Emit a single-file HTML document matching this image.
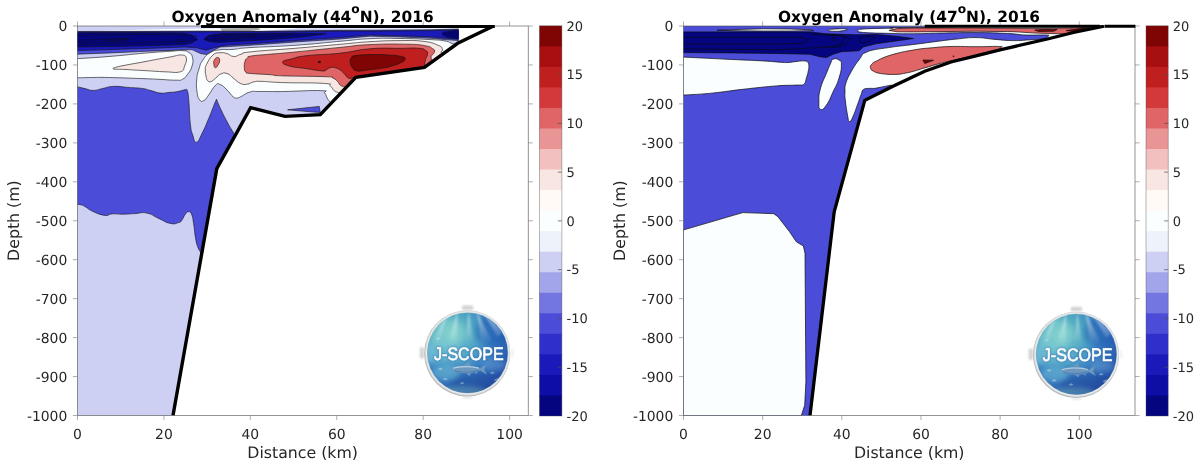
<!DOCTYPE html>
<html lang="en">
<head>
<meta charset="utf-8">
<title>Oxygen Anomaly 2016 - J-SCOPE</title>
<style>
html,body{margin:0;padding:0;background:#fff;}
body{width:1200px;height:467px;overflow:hidden;font-family:"DejaVu Sans","Liberation Sans",sans-serif;}
svg{display:block;will-change:transform;opacity:0.9999;}
text{text-rendering:geometricPrecision;}
</style>
</head>
<body>
<svg width="1200" height="467" viewBox="0 0 1200 467" shape-rendering="geometricPrecision">
<rect x="0" y="0" width="1200" height="467" fill="#fff"/>
<defs>
<clipPath id="lc"><path d="M77.5 26 L458.7 26 L458.7 43 L424.4 67.4 L355.8 77.4 L320.3 114.6 L285 116.4 L250.6 107.7 L216.8 168.6 L173 415.5 L77.5 415.5Z"/></clipPath>
<clipPath id="lax"><rect x="77.5" y="25" width="450.7" height="390.5"/></clipPath>
</defs>
<g clip-path="url(#lc)">
<rect x="70" y="20" width="420" height="400" fill="#CDD0F3"/>
<path d="M95 30.9 L150 29.6 L200 28.4 L262 27.6 L330 27.5 L459 27.6 L459 28.4 L400 28.6 L300 28.2 L262 31 L200 31.2 L150 31.3Z" fill="#FAFEFF"/>
<path d="M220 28.2 L258 28 L261 29.6 L250 31 L222 31.2Z" fill="#a9a9a9"/>
<path d="M77 31.5 L140 31.3 L200 31.1 L261 31.3 L300 30.8 L340 30.3 L370 30.3 L430 29.8 L459.5 29 L459.5 40.6 L445 39.6 L430 38.2 L400 37 L370 36.2 L340 39 L295 42 L250 45.3 L228 46.6 L220 47 L213 50.5 L206.6 54.6 L200.3 53.4 L192 49.6 L170 50.4 L145 51.3 L110 52.9 L77 54.2Z" fill="#4B4DD8" stroke="#141414" stroke-width="0.62"/>
<path d="M77 32.1 L200 31.8 L300 31.6 L340 31.1 L370 31.1 L430 30.6 L459.5 29.9 L459.5 39.2 L445 38.2 L430 36.8 L400 35.8 L370 35 L340 37.6 L295 40.6 L250 43.8 L228 45 L215 47.4 L206 50.2 L197 47.8 L185 47 L145 48.5 L110 49.6 L77 50.6Z" fill="#1A1ABB" stroke="#141414" stroke-width="0.62"/>
<path d="M77 32.9 L150 32.7 L185 33.2 L193 35.6 L197.5 39.6 L192 42.8 L185 44.5 L145 45.8 L110 46.5 L77 47Z" fill="#05057F" stroke="#141414" stroke-width="0.62"/>
<path d="M203.5 39.2 L209 35.2 L222 33.6 L262 33.3 L300 33.2 L326 33.8 L300 37.2 L283 38.6 L260 40.2 L232 41.6 L218 42.4 L209 41.6Z" fill="#05057F" stroke="#141414" stroke-width="0.62"/>
<path d="M442.5 33.8 C443.17 32.4 441.33 32.73 447 31.8 C452.67 30.87 455.33 29 459.5 31 C463.67 33 462.67 35.67 459.5 37.8 C456.33 39.93 454.83 38 450 37.4 C445.17 36.8 447.5 37.2 445 36 C442.5 34.8 441.83 35.2 442.5 33.8Z" fill="#05057F" stroke="#141414" stroke-width="0.62"/>
<path d="M448 34.4 C449.33 34 448.17 33.73 452 33.2 C455.83 32.67 457 32.93 459.5 32.8" fill="none" stroke="#141414" stroke-width="0.4"/>
<path d="M452 36.4 C453 36.07 452.5 35.8 455 35.4 C457.5 35 458 35.27 459.5 35.2" fill="none" stroke="#141414" stroke-width="0.4"/>
<path d="M77 36 C88 35.67 85.67 35.47 110 35 C134.33 34.53 124.67 34.6 150 34.6 C175.33 34.6 170.67 34 186 35 C201.33 36 196 35.6 196 37.6 C196 39.6 201.33 39.47 186 41 C170.67 42.53 175.33 41.33 150 42.2 C124.67 43.07 134.33 42.8 110 43.6 C85.67 44.4 88 44.27 77 44.6" fill="none" stroke="#141414" stroke-width="0.45"/>
<path d="M77 40.6 C83 40.27 78 40.2 95 39.6 C112 39 123 38.33 128 38.8 C133 39.27 122.67 39.93 110 41 C97.33 42.07 101 41.53 90 42 C79 42.47 81.33 42.27 77 42.4" fill="none" stroke="#141414" stroke-width="0.45"/>
<path d="M108 40.4 C107.33 39.63 109.33 39.57 116 39.3 C122.67 39.03 127.33 38.83 128 39.6 C128.67 40.37 124.67 41.33 118 41.6 C111.33 41.87 108.67 41.17 108 40.4Z" fill="none" stroke="#141414" stroke-width="0.4"/>
<path d="M177 40.6 C177.33 39.47 178.67 38.8 181 38.6 C183.33 38.4 184.33 38.87 184 40 C183.67 41.13 182.33 41.8 180 42 C177.67 42.2 176.67 41.73 177 40.6Z" fill="none" stroke="#141414" stroke-width="0.4"/>
<path d="M206.5 38.6 C206.5 37.07 206.17 36.73 212 35.4 C217.83 34.07 207.33 34.8 224 34.6 C240.67 34.4 239.33 34.87 262 34.8 C284.67 34.73 292 33.6 292 34.4 C292 35.2 284 35.6 262 37.2 C240 38.8 242.67 38.27 226 39.2 C209.33 40.13 218.5 40.2 212 40 C205.5 39.8 206.5 40.13 206.5 38.6Z" fill="none" stroke="#141414" stroke-width="0.45"/>
<path d="M214 37.8 C213.33 37.07 211.33 36.8 220 36.2 C228.67 35.6 228 36.07 240 36 C252 35.93 256 35.6 256 36 C256 36.4 251.33 36.4 240 37.2 C228.67 38 230.67 38.2 222 38.4 C213.33 38.6 214.67 38.53 214 37.8Z" fill="none" stroke="#141414" stroke-width="0.4"/>
<path d="M76 58.75 C85.07 58.12 91.6 57.91 110 56.4 C128.4 54.89 129 54.46 145 53.1 C161 51.74 160 51.94 170 51.3 C180 50.66 177.5 50.38 182.5 50.7 C187.5 51.02 186.08 50.69 188.75 52.5 C191.42 54.31 191.66 53.77 192.5 57.5 C193.34 61.23 193.23 61.99 191.9 66.5 C190.57 71.01 190.01 71.01 187.5 74.4 C184.99 77.79 185.57 77.65 182.5 79.2 C179.43 80.75 182.83 80.2 176 80.2 C169.17 80.2 167.35 79.68 156.9 79.2 C146.45 78.72 149.73 78.85 136.8 78.4 C123.87 77.95 120.43 77.74 108.4 77.5 C96.37 77.26 100.34 77.39 91.7 77.5 C83.06 77.61 80.19 77.79 76 77.9 L70 77.9 L70 58.75Z" fill="#FAFEFF" stroke="#141414" stroke-width="0.62"/>
<path d="M462 47 C459.33 46.07 456.53 45.1 452 43.5 C447.47 41.9 450.87 42.04 445 41 C439.13 39.96 442 40.27 430 39.6 C418 38.93 416 38.74 400 38.5 C384 38.26 386 37.95 370 38.7 C354 39.45 360 39.54 340 41.3 C320 43.06 319 43.62 295 45.3 C271 46.98 266.53 46.51 250 47.6 C233.47 48.69 241 48.81 233 49.4 C225 49.99 226.03 48.95 220 49.8 C213.97 50.65 214.99 49.85 210.4 52.6 C205.81 55.35 205.92 55.46 202.8 60.1 C199.68 64.74 200.33 64.69 198.7 70 C197.07 75.31 197.15 74.21 196.7 80 C196.25 85.79 196.25 86.47 197 91.7 C197.75 96.93 197.71 97.23 199.5 99.6 C201.29 101.97 201.25 101.83 203.7 100.6 C206.15 99.37 205.58 99.05 208.7 95 C211.82 90.95 212.28 88.17 215.4 85.4 C218.52 82.63 217.31 83.37 220.4 84.6 C223.49 85.83 223.64 86.8 227 90 C230.36 93.2 230.47 94.47 233 96.6 C235.53 98.73 234.47 97.95 236.5 98 C238.53 98.05 236.97 98.4 240.6 96.8 C244.23 95.2 244.93 93.41 250.1 92 C255.27 90.59 251.12 91.63 260 91.5 C268.88 91.37 267.24 91.74 283.4 91.5 C299.56 91.26 309.59 90.2 320.6 90.6 C331.61 91 322.94 91 324.7 93 C326.46 95 325.87 95.81 327.2 98.1 C328.53 100.39 327.89 99.49 329.7 101.6 C331.51 103.71 332.85 104.83 334 106 L480 103 L480 47Z" fill="#FAFEFF" stroke="#141414" stroke-width="0.62"/>
<path d="M113.75 68 C117.72 66.13 131.88 64.17 145 61.6 C158.12 59.03 161.48 58.54 170 57 C178.52 55.46 177.7 54.77 181.5 55 C185.3 55.23 185.58 55.43 186.3 58 C187.02 60.57 186 62.78 184.6 66 C183.2 69.22 184.87 70.45 180.3 71.8 C175.73 73.15 173.24 72.08 165 71.8 C156.76 71.52 153.63 71.11 145 70.6 C136.37 70.09 135.29 70.21 128 69.6 C120.71 68.99 109.78 69.87 113.75 68Z" fill="#F8E6E3" stroke="#141414" stroke-width="0.62"/>
<path d="M446 57 C444.73 55.8 442.18 54.53 441.25 52.5 C440.32 50.47 443.5 51.4 442.5 49.4 C441.5 47.4 442.83 47.17 437.5 45 C432.17 42.83 432.5 42.42 422.5 41.25 C412.5 40.08 414 40.48 400 40.6 C386 40.72 386 40.71 370 41.7 C354 42.69 360 42.54 340 44.3 C320 46.06 318.67 46.3 295 48.3 C271.33 50.3 265.65 50.23 251.25 51.8 C236.85 53.37 245.67 52.95 241 54.2 C236.33 55.45 237.48 56.66 233.75 56.5 C230.02 56.34 230.67 54.6 227 53.6 C223.33 52.6 223.76 52.35 220 52.75 C216.24 53.15 216.47 51.99 212.9 55.1 C209.33 58.21 208.63 60.43 206.6 64.4 C204.57 68.37 205.46 66.91 205.3 70 C205.14 73.09 205.44 73.28 206 76 C206.56 78.72 206.17 78.68 207.4 80.2 C208.63 81.72 208.47 82.18 210.6 81.7 C212.73 81.22 212.79 80.4 215.4 78.4 C218.01 76.4 217.31 75.51 220.4 74.2 C223.49 72.89 223.45 72.38 227 73.5 C230.55 74.62 230.13 75.76 233.7 78.4 C237.27 81.04 236.83 81.85 240.4 83.4 C243.97 84.95 243.53 84.6 247.1 84.2 C250.67 83.8 249.83 82.65 253.8 81.9 C257.77 81.15 254.11 81.21 262 81.4 C269.89 81.59 267 82.07 283.4 82.6 C299.8 83.13 311.02 82.52 323.5 83.4 C335.98 84.28 327.29 83.9 330.2 85.9 C333.11 87.9 332.16 89.11 334.4 90.9 C336.64 92.69 336.04 91.51 338.6 92.6 C341.16 93.69 342.56 94.36 344 95 L470 95 L470 57Z" fill="#F8E6E3" stroke="#141414" stroke-width="0.62"/>
<path d="M214.1 60.6 C215.01 58.55 215.91 57.45 217.4 57.4 C218.89 57.35 219.7 58.11 219.7 60.4 C219.7 62.69 218.6 64.08 217.4 66 C216.2 67.92 216.11 67.84 215.2 67.6 C214.29 67.36 214.29 66.97 214 65.1 C213.71 63.23 213.19 62.65 214.1 60.6Z" fill="#DF6566" stroke="#141414" stroke-width="0.62"/>
<path d="M436 63 C434.67 61.67 431.43 60.93 431 58 C430.57 55.07 434 54.51 434.4 52 C434.8 49.49 435.01 50.28 432.5 48.6 C429.99 46.92 431.8 46.87 425 45.7 C418.2 44.53 421.67 44.49 407 44.2 C392.33 43.91 387.87 43.75 370 44.6 C352.13 45.45 360 45.43 340 47.4 C320 49.37 313.67 50.19 295 52 C276.33 53.81 281.67 53.13 270 54.2 C258.33 55.27 257.25 54.99 251.25 56 C245.25 57.01 249.17 56.6 247.5 58 C245.83 59.4 245.83 58.45 245 61.25 C244.17 64.05 244.13 65.58 244.4 68.5 C244.67 71.42 244.51 70.89 246 72.2 C247.49 73.51 243.6 72.73 250 73.4 C256.4 74.07 261.09 74.03 270 74.7 C278.91 75.37 268.68 75.37 283.4 75.9 C298.12 76.43 311.92 76.09 325.2 76.7 C338.48 77.31 329.89 76.89 333.2 78.2 C336.51 79.51 335.73 79.76 337.6 81.6 C339.47 83.44 338.6 83.74 340.2 85.1 C341.8 86.46 341.25 85.66 343.6 86.7 C345.95 87.74 347.56 88.39 349 89 L460 89 L460 63Z" fill="#DF6566" stroke="#141414" stroke-width="0.62"/>
<path d="M424.5 69 C424.63 66.93 424.2 65.25 425 61.25 C425.8 57.25 427.34 56.84 427.5 54 C427.66 51.16 427.87 52.12 425.6 50.6 C423.33 49.08 425.83 48.91 419 48.3 C412.17 47.69 413.07 48.17 400 48.3 C386.93 48.43 386 47.49 370 48.8 C354 50.11 356.67 51.39 340 53.2 C323.33 55.01 320.3 54.11 307.5 55.6 C294.7 57.09 298.59 57.09 292 58.8 C285.41 60.51 283.31 60.03 282.8 62 C282.29 63.97 284.15 64.49 290.1 66.2 C296.05 67.91 296.65 67.15 305.1 68.4 C313.55 69.65 316.23 70.5 321.8 70.9 C327.37 71.3 323.76 70.75 326 69.9 C328.24 69.05 327.91 68.31 330.2 67.7 C332.49 67.09 331.93 66.99 334.6 67.6 C337.27 68.21 337.56 68.29 340.2 70 C342.84 71.71 342.58 72.03 344.5 74 C346.42 75.97 345.77 76.23 347.4 77.4 C349.03 78.57 348.73 78.4 350.6 78.4 C352.47 78.4 352.43 77.08 354.4 77.4 C356.37 77.72 357.04 79.01 358 79.6 L440 79.4 L440 69Z" fill="#C01F20" stroke="#141414" stroke-width="0.62"/>
<path d="M350.2 62 C349.99 59.28 350.32 59.08 351.6 57.4 C352.88 55.72 350.09 56.45 355 55.7 C359.91 54.95 361 54.79 370 54.6 C379 54.41 380.42 54.49 388.75 55 C397.08 55.51 396.92 55.43 401.25 56.5 C405.58 57.57 405 57.4 405 59 C405 60.6 404.72 60.63 401.25 62.5 C397.78 64.37 397 64.51 392 66 C387 67.49 389.17 67.01 382.5 68.1 C375.83 69.19 373.8 69.35 367 70.1 C360.2 70.85 360.89 71.57 357 70.9 C353.11 70.23 354.21 69.97 352.4 67.6 C350.59 65.23 350.41 64.72 350.2 62Z" fill="#7F0505" stroke="#141414" stroke-width="0.62"/>
<ellipse cx="319.4" cy="61.9" rx="1.3" ry="0.9" fill="#300" stroke="#141414" stroke-width="0.4"/>
<path d="M76 86.4 C78.4 86.99 80.36 87.53 85 88.6 C89.64 89.67 88.6 90.45 93.4 90.4 C98.2 90.35 97.67 89.47 103 88.4 C108.33 87.33 106.73 86.67 113.4 86.4 C120.07 86.13 120.43 86.87 128 87.4 C135.57 87.93 135.67 87.55 141.8 88.4 C147.93 89.25 146.09 89.35 151 90.6 C155.91 91.85 155.4 92.62 160.2 93.1 C165 93.58 164.55 92.77 169 92.4 C173.45 92.03 172.55 92.45 176.9 91.7 C181.25 90.95 183.06 90.16 185.3 89.6 L185.3 89.6 C185.91 90.08 186.61 87.72 187.6 91.4 C188.59 95.08 188.28 94.84 189 103.4 C189.72 111.96 189.29 115.02 190.3 123.5 C191.31 131.98 191.15 130.21 192.8 135.2 C194.45 140.19 194.05 142.65 196.5 142.2 C198.95 141.75 198.75 139.82 202 133.5 C205.25 127.18 205.58 125.86 208.7 118.5 C211.82 111.14 211.62 111.05 213.7 105.9 C215.78 100.75 215.75 100.99 216.5 99.2 L216.5 99.2 C217.54 101.65 217.57 102.37 220.4 108.4 C223.23 114.43 223.77 115.56 227.1 121.8 C230.43 128.04 229.73 126.68 232.9 131.8 C236.07 136.92 237.37 138.55 239 141 L255 141 L255 175 L230 200 L215 262 L203 256 L203 256 C202.28 254.88 201.69 254.2 200.3 251.8 C198.91 249.4 199.05 250.55 197.8 247 C196.55 243.45 196.72 244.79 195.6 238.5 C194.48 232.21 194.67 229.83 193.6 223.4 C192.53 216.97 192.93 217.52 191.6 214.4 C190.27 211.28 190.28 211.75 188.6 211.7 C186.92 211.65 187.09 211.96 185.3 214.2 C183.51 216.44 183.69 217.86 181.9 220.1 C180.11 222.34 181.69 221.72 178.6 222.6 C175.51 223.48 175.63 224.52 170.3 223.4 C164.97 222.28 164.84 221.15 158.6 218.4 C152.36 215.65 153.19 214.38 146.9 213.1 C140.61 211.82 141.24 213.31 135 213.6 C128.76 213.89 129.69 214.12 123.5 214.2 C117.31 214.28 116.71 213.58 111.8 213.9 C106.89 214.22 110.01 215.99 105.1 215.4 C100.19 214.81 98.76 214.05 93.4 211.7 C88.04 209.35 88.12 208.39 85 206.6 C81.88 204.81 84.1 205.69 81.7 205 C79.3 204.31 77.52 204.27 76 204 L70 204 L70 86.4Z" fill="#4B4DD8" stroke="#141414" stroke-width="0.62"/>
<path d="M287.6 109.8 L319.3 106.4 L320.2 112.6Z" fill="#4B4DD8" stroke="#141414" stroke-width="0.62"/>
</g>
<defs>
<clipPath id="rc"><path d="M683.5 26 L1104 26.2 L1073.5 32.5 L1048.5 38.75 L1001 49.6 L976 55.8 L951 62 L924.7 71.2 L893 86.2 L864.8 100.4 L834.2 211.7 L810 415.5 L683.5 415.5Z"/></clipPath>
<clipPath id="rax"><rect x="683.5" y="25" width="451.5" height="390.5"/></clipPath>
</defs>
<g clip-path="url(#rc)">
<rect x="676" y="20" width="440" height="400" fill="#4B4DD8"/>
<path d="M683 31.9 L760 31.9 L811 32 L826 33.75 L856 34.8 L876 34.4 L896 36.2 L913.5 38.5 L896 41 L876 43.75 L863.5 46.9 L859 50.8 L841.4 51.7 L833.1 54.2 L826.4 57.5 L819.7 56.7 L809.7 54.2 L776.3 53.5 L730 52.9 L683 52.6Z" fill="#05057F" stroke="#0c0c0c" stroke-width="0.7"/>
<path d="M683 37.2 L760 37.2 L800 37.2 L808.5 39.4 L803 43.4 L760 44.2 L683 44" fill="none" stroke="#0c0c0c" stroke-width="0.62"/>
<path d="M683 48.75 L730 49.4 L780 49.6 L812 48 L826 46.9 L838 47 L846 44 L851 38.6 L840 35.6 L826 35 L811 34.2" fill="none" stroke="#0c0c0c" stroke-width="0.62"/>
<path d="M826 35 C831.42 35.2 836.42 33.93 842.25 35.6 C848.08 37.27 844.75 36.87 843.5 40 C842.25 43.13 844.33 42.7 838.5 45 C832.67 47.3 830.17 46.27 826 46.9" fill="none" stroke="#0c0c0c" stroke-width="0.62"/>
<path d="M832.4 38.2 C832.8 37.13 833.53 37 834.6 37.4 C835.67 37.8 836 38.33 835.6 39.4 C835.2 40.47 834.47 41 833.4 40.6 C832.33 40.2 832 39.27 832.4 38.2Z" fill="none" stroke="#0c0c0c" stroke-width="0.62"/>
<path d="M859.5 40 C860.17 38.27 858.67 38.33 863 37.2 C867.33 36.07 869 36.2 872.5 36.6 C876 37 875.67 36.6 873.5 38.4 C871.33 40.2 870.17 40.67 866 42 C861.83 43.33 863.17 43.07 861 42.4 C858.83 41.73 858.83 41.73 859.5 40Z" fill="none" stroke="#0c0c0c" stroke-width="0.62"/>
<path d="M717 30.25 L740 29.4 L763.5 28.75 L790 29 L811 29.75 L813.5 30.6 L790 31 L763.5 31 L740 30.8Z" fill="#FAFEFF" stroke="#0c0c0c" stroke-width="0.7"/>
<path d="M828.5 30 C829.33 29.25 830.17 29.33 836 29 C841.83 28.67 843.5 28.47 846 29 C848.5 29.53 847.67 29.85 843.5 30.6 C839.33 31.35 838.5 31.45 833.5 31.25 C828.5 31.05 827.67 30.75 828.5 30Z" fill="#FAFEFF" stroke="#0c0c0c" stroke-width="0.7"/>
<path d="M857.9 30.6 C857.9 31.42 856.01 31.85 863.5 32.5 C870.99 33.15 878.33 33.11 890 33.4 C901.67 33.69 900.67 33.84 913.5 33.75 C926.33 33.66 930.42 33.27 945 33 C959.58 32.73 961.48 32.48 976 32.6 C990.52 32.72 995.58 32.94 1007.25 33.5 C1018.92 34.06 1016.96 34.65 1026 35 C1035.04 35.35 1040.89 34.71 1046 35 C1051.11 35.29 1048.48 35.38 1047.9 36.25 C1047.32 37.12 1047.68 37.92 1043.5 38.75 C1039.32 39.58 1037 39.37 1030 39.8 C1023 40.23 1021.67 40.69 1013.5 40.6 C1005.33 40.51 1003.75 40.1 995 39.4 C986.25 38.7 984.87 37.69 976 37.6 C967.13 37.51 965.75 38.16 957 39 C948.25 39.84 948.65 39.92 938.5 41.2 C928.35 42.48 925.17 43.01 913.5 44.5 C901.83 45.99 899.29 45.9 888.5 47.6 C877.71 49.3 874.02 49.09 867.25 51.8 C860.48 54.51 863.25 54.56 859.5 59.2 C855.75 63.84 854.4 66.05 851.2 71.7 C848 77.35 847.25 78.66 845.8 83.4 C844.35 88.14 845.12 88.1 845 92 C844.88 95.9 844.65 94.31 845.3 100.1 C845.95 105.89 846.82 111.81 847.8 116.8 C848.78 121.79 848.31 121.5 849.5 121.5 C850.69 121.5 850.94 121 852.9 116.8 C854.86 112.6 855.96 108.75 857.9 103.5 C859.84 98.25 859.85 97.61 861.2 94.3 C862.55 90.99 861.65 90.68 863.7 89.3 C865.75 87.92 867.06 88.68 870 88.4 C872.94 88.12 871.73 88.8 876.3 88.1 C880.87 87.4 884.77 86.22 889.6 85.4 C894.43 84.58 888.81 87.49 897 84.6 C905.19 81.71 910 74.07 924.7 73 C939.4 71.93 909.76 78.37 960 80 C1010.24 81.63 1098 92.37 1140 80 C1182 67.63 1190.4 39.27 1140 27 C1089.6 14.73 982.33 27.12 924 27.4 C865.67 27.68 904.12 27.83 890 28.2 C875.88 28.57 870.99 28.44 863.5 29 C856.01 29.56 857.9 29.78 857.9 30.6Z" fill="#FAFEFF" stroke="#0c0c0c" stroke-width="0.7"/>
<path d="M889 30.4 L897 28.6 L913.5 28 L976 28 L1033 28.4 L1063 28.2 L1090 27.6 L1090 34 L1058.5 33.75 L1036 33.1 L1013.5 31.7 L976 31.2 L913.5 31.9 L897 31.8Z" fill="#DF6566" stroke="#0c0c0c" stroke-width="0.7"/>
<path d="M1034.75 30 L1045 29.4 L1057.25 29.4 L1053.5 31.25 L1038.5 31.5Z" fill="#7F0505" stroke="#0c0c0c" stroke-width="0.7"/>
<path d="M1066 30.6 L1082.25 28.3 L1086 28.6 L1073.5 31.4Z" fill="#7F0505" stroke="#0c0c0c" stroke-width="0.7"/>
<path d="M1008 53 C1006.37 51.86 1002.92 49.62 1001 48.1 C999.08 46.58 1005.58 46.83 999.75 46.5 C993.92 46.17 987.38 46.7 976 46.7 C964.62 46.7 961.27 46.24 951 46.5 C940.73 46.76 940.75 46.98 932 47.8 C923.25 48.62 923.07 48.32 913.5 50 C903.93 51.68 899.75 52.38 891 55 C882.25 57.62 880.39 59.2 876 61.25 C871.61 63.3 873.51 62.34 872.2 63.8 C870.89 65.26 870.1 65.76 870.4 67.5 C870.7 69.24 870.74 69.79 873.5 71.25 C876.26 72.71 877 73.02 882.25 73.75 C887.5 74.48 890.69 74.53 896 74.4 C901.31 74.27 900.92 73.94 905 73.2 C909.08 72.47 908.83 72.51 913.5 71.25 C918.17 69.99 919.17 69.52 925 67.8 C930.83 66.08 931.5 65.72 938.5 63.9 C945.5 62.08 946.48 61.84 955 60 C963.52 58.16 970.33 56.93 975 56 L1008 60Z" fill="#DF6566" stroke="#0c0c0c" stroke-width="0.7"/>
<path d="M922.9 60 L933.5 60.25 L924.75 63.5Z" fill="#7F0505" stroke="#0c0c0c" stroke-width="0.7"/>
<circle cx="953.5" cy="56.25" r="0.8" fill="#500"/>
<path d="M682 57 C690.82 57.44 709.92 58.42 726.1 59.2 C742.28 59.98 752.12 60.3 762.9 60.9 C773.68 61.5 774.98 61.88 780 62.2 C785.02 62.52 784.6 62.66 788 62.5 C791.4 62.34 793.66 61.72 797 61.4 C800.34 61.08 802.5 60.68 804.7 60.9 C806.9 61.12 807.18 61 808 62.5 C808.82 64 809.14 65.22 808.8 68.4 C808.46 71.58 807.3 75.22 806.3 78.4 C805.3 81.58 805.8 82.96 803.8 84.3 C801.8 85.64 801.8 84.78 796.3 85.1 C790.8 85.42 787 85.06 776.3 85.9 C765.6 86.74 756.18 87.8 742.8 89.3 C729.42 90.8 721.56 92.24 709.4 93.4 C697.24 94.56 687.48 94.76 682 95.1 L676 95.1 L676 57Z" fill="#FAFEFF" stroke="#0c0c0c" stroke-width="0.7"/>
<path d="M833.1 59.2 C835.31 58.29 836.69 58.45 838.9 60 C841.11 61.55 841.4 60.09 841.4 65 C841.4 69.91 841.11 71.25 838.9 78.4 C836.69 85.55 836.43 84.68 833.1 91.8 C829.77 98.92 829.76 100.43 826.4 105.1 C823.04 109.77 822.5 110.18 820.5 109.3 C818.5 108.42 818.9 107.37 818.9 101.8 C818.9 96.23 818.5 95.97 820.5 88.4 C822.5 80.83 823.71 80.07 826.4 73.4 C829.09 66.73 828.81 67.19 830.6 63.4 C832.39 59.61 830.89 60.11 833.1 59.2Z" fill="#FAFEFF" stroke="#0c0c0c" stroke-width="0.7"/>
<path d="M683 230.1 L742.8 212.6 L773.7 213.7 L777.9 216.7 L789.6 231.8 L796.3 241.8 L803.4 246 L805 253.5 L805.6 340 L805.9 381.8 L804.7 405.2 L801.2 416 L683 416Z" fill="#FAFEFF" stroke="#0c0c0c" stroke-width="0.7"/>
</g>
<g stroke="#4d4d4d" stroke-width="0.6" fill="none">
<rect x="77.5" y="26" width="450.7" height="389.5"/>
<path stroke="#777" d="M77.5 415.5 v4.6 M77.5 26 v-4.6"/>
<path stroke="#777" d="M163.92 415.5 v4.6 M163.92 26 v-4.6"/>
<path stroke="#777" d="M250.34 415.5 v4.6 M250.34 26 v-4.6"/>
<path stroke="#777" d="M336.76 415.5 v4.6 M336.76 26 v-4.6"/>
<path stroke="#777" d="M423.18 415.5 v4.6 M423.18 26 v-4.6"/>
<path stroke="#777" d="M509.6 415.5 v4.6 M509.6 26 v-4.6"/>
<path stroke="#777" d="M77.5 26 h-4.6 M528.2 26 h4.6"/>
<path stroke="#777" d="M77.5 64.95 h-4.6 M528.2 64.95 h4.6"/>
<path stroke="#777" d="M77.5 103.9 h-4.6 M528.2 103.9 h4.6"/>
<path stroke="#777" d="M77.5 142.85 h-4.6 M528.2 142.85 h4.6"/>
<path stroke="#777" d="M77.5 181.8 h-4.6 M528.2 181.8 h4.6"/>
<path stroke="#777" d="M77.5 220.75 h-4.6 M528.2 220.75 h4.6"/>
<path stroke="#777" d="M77.5 259.7 h-4.6 M528.2 259.7 h4.6"/>
<path stroke="#777" d="M77.5 298.65 h-4.6 M528.2 298.65 h4.6"/>
<path stroke="#777" d="M77.5 337.6 h-4.6 M528.2 337.6 h4.6"/>
<path stroke="#777" d="M77.5 376.55 h-4.6 M528.2 376.55 h4.6"/>
<path stroke="#777" d="M77.5 415.5 h-4.6 M528.2 415.5 h4.6"/>
</g>
<g font-family="'DejaVu Sans','Liberation Sans',sans-serif" font-size="13.9" fill="#262626">
<text x="77.5" y="438.9" text-anchor="middle">0</text>
<text x="163.92" y="438.9" text-anchor="middle">20</text>
<text x="250.34" y="438.9" text-anchor="middle">40</text>
<text x="336.76" y="438.9" text-anchor="middle">60</text>
<text x="423.18" y="438.9" text-anchor="middle">80</text>
<text x="509.6" y="438.9" text-anchor="middle">100</text>
<text x="67.3" y="31.1" text-anchor="end">0</text>
<text x="67.3" y="70.05" text-anchor="end">-100</text>
<text x="67.3" y="109" text-anchor="end">-200</text>
<text x="67.3" y="147.95" text-anchor="end">-300</text>
<text x="67.3" y="186.9" text-anchor="end">-400</text>
<text x="67.3" y="225.85" text-anchor="end">-500</text>
<text x="67.3" y="264.8" text-anchor="end">-600</text>
<text x="67.3" y="303.75" text-anchor="end">-700</text>
<text x="67.3" y="342.7" text-anchor="end">-800</text>
<text x="67.3" y="381.65" text-anchor="end">-900</text>
<text x="67.3" y="420.6" text-anchor="end">-1000</text>
</g>
<g stroke="#4d4d4d" stroke-width="0.6" fill="none">
<rect x="683.5" y="26" width="451.5" height="389.5"/>
<path stroke="#777" d="M683.5 415.5 v4.6 M683.5 26 v-4.6"/>
<path stroke="#777" d="M762.66 415.5 v4.6 M762.66 26 v-4.6"/>
<path stroke="#777" d="M841.82 415.5 v4.6 M841.82 26 v-4.6"/>
<path stroke="#777" d="M920.98 415.5 v4.6 M920.98 26 v-4.6"/>
<path stroke="#777" d="M1000.14 415.5 v4.6 M1000.14 26 v-4.6"/>
<path stroke="#777" d="M1079.3 415.5 v4.6 M1079.3 26 v-4.6"/>
<path stroke="#777" d="M683.5 26 h-4.6 M1135 26 h4.6"/>
<path stroke="#777" d="M683.5 64.95 h-4.6 M1135 64.95 h4.6"/>
<path stroke="#777" d="M683.5 103.9 h-4.6 M1135 103.9 h4.6"/>
<path stroke="#777" d="M683.5 142.85 h-4.6 M1135 142.85 h4.6"/>
<path stroke="#777" d="M683.5 181.8 h-4.6 M1135 181.8 h4.6"/>
<path stroke="#777" d="M683.5 220.75 h-4.6 M1135 220.75 h4.6"/>
<path stroke="#777" d="M683.5 259.7 h-4.6 M1135 259.7 h4.6"/>
<path stroke="#777" d="M683.5 298.65 h-4.6 M1135 298.65 h4.6"/>
<path stroke="#777" d="M683.5 337.6 h-4.6 M1135 337.6 h4.6"/>
<path stroke="#777" d="M683.5 376.55 h-4.6 M1135 376.55 h4.6"/>
<path stroke="#777" d="M683.5 415.5 h-4.6 M1135 415.5 h4.6"/>
</g>
<g font-family="'DejaVu Sans','Liberation Sans',sans-serif" font-size="13.9" fill="#262626">
<text x="683.5" y="438.9" text-anchor="middle">0</text>
<text x="762.66" y="438.9" text-anchor="middle">20</text>
<text x="841.82" y="438.9" text-anchor="middle">40</text>
<text x="920.98" y="438.9" text-anchor="middle">60</text>
<text x="1000.14" y="438.9" text-anchor="middle">80</text>
<text x="1079.3" y="438.9" text-anchor="middle">100</text>
<text x="673.3" y="31.1" text-anchor="end">0</text>
<text x="673.3" y="70.05" text-anchor="end">-100</text>
<text x="673.3" y="109" text-anchor="end">-200</text>
<text x="673.3" y="147.95" text-anchor="end">-300</text>
<text x="673.3" y="186.9" text-anchor="end">-400</text>
<text x="673.3" y="225.85" text-anchor="end">-500</text>
<text x="673.3" y="264.8" text-anchor="end">-600</text>
<text x="673.3" y="303.75" text-anchor="end">-700</text>
<text x="673.3" y="342.7" text-anchor="end">-800</text>
<text x="673.3" y="381.65" text-anchor="end">-900</text>
<text x="673.3" y="420.6" text-anchor="end">-1000</text>
</g>
<g clip-path="url(#lax)">
<path d="M493 26.3 L457.7 43.3 L424.4 67.4 L355.8 77.4 L320.3 114.6 L285 116.4 L250.6 107.7 L216.8 168.6 L173 415.5" fill="none" stroke="#000" stroke-width="3.4" stroke-linejoin="miter" stroke-linecap="butt"/>
</g>
<g clip-path="url(#rax)">
<path d="M1104 26.2 L1073.5 32.5 L1048.5 38.75 L1001 49.6 L976 55.8 L951 62 L924.7 71.2 L893 86.2 L864.8 100.4 L834.2 211.7 L810 415.5" fill="none" stroke="#000" stroke-width="3.3" stroke-linejoin="miter"/>
</g>
<path d="M201 26.45 L494.8 26.45" fill="none" stroke="#000" stroke-width="3.1"/>
<path d="M924.7 26.35 L1099.8 26.35 M1104.6 26.35 L1135.4 26.35" fill="none" stroke="#000" stroke-width="3.0"/>
<g font-family="'DejaVu Sans','Liberation Sans',sans-serif" fill="#111">
<text x="302.6" y="21.6" text-anchor="middle" font-size="15.4" font-weight="bold" fill="#000">Oxygen Anomaly (44<tspan dy="-9.0" font-size="12.2">o</tspan><tspan dy="9.0">N), 2016</tspan></text>
<text x="909" y="21.6" text-anchor="middle" font-size="15.4" font-weight="bold" fill="#000">Oxygen Anomaly (47<tspan dy="-9.0" font-size="12.2">o</tspan><tspan dy="9.0">N), 2016</tspan></text>
<g font-size="15.75" fill="#262626">
<text x="302.6" y="458.2" text-anchor="middle">Distance (km)</text>
<text x="909.2" y="458.2" text-anchor="middle">Distance (km)</text>
<text transform="translate(19.4 220.6) rotate(-90)" text-anchor="middle">Depth (m)</text>
<text transform="translate(625.4 220.6) rotate(-90)" text-anchor="middle">Depth (m)</text>
</g></g>
<rect x="539.4" y="25.8" width="22.5" height="21.54" fill="#7F0505"/>
<rect x="539.4" y="46.34" width="22.5" height="21.54" fill="#A80F10"/>
<rect x="539.4" y="66.87" width="22.5" height="21.54" fill="#C01F20"/>
<rect x="539.4" y="87.41" width="22.5" height="21.54" fill="#D3383B"/>
<rect x="539.4" y="107.95" width="22.5" height="21.54" fill="#DF6566"/>
<rect x="539.4" y="128.48" width="22.5" height="21.54" fill="#EA9595"/>
<rect x="539.4" y="149.02" width="22.5" height="21.54" fill="#F2C0BF"/>
<rect x="539.4" y="169.56" width="22.5" height="21.54" fill="#F8E6E3"/>
<rect x="539.4" y="190.09" width="22.5" height="21.54" fill="#FFFAF5"/>
<rect x="539.4" y="210.63" width="22.5" height="21.54" fill="#FAFEFF"/>
<rect x="539.4" y="231.17" width="22.5" height="21.54" fill="#EEF3FB"/>
<rect x="539.4" y="251.71" width="22.5" height="21.54" fill="#CDD0F3"/>
<rect x="539.4" y="272.24" width="22.5" height="21.54" fill="#A3A5EA"/>
<rect x="539.4" y="292.78" width="22.5" height="21.54" fill="#7375E0"/>
<rect x="539.4" y="313.32" width="22.5" height="21.54" fill="#4B4DD8"/>
<rect x="539.4" y="333.85" width="22.5" height="21.54" fill="#2F30CB"/>
<rect x="539.4" y="354.39" width="22.5" height="21.54" fill="#1A1ABB"/>
<rect x="539.4" y="374.93" width="22.5" height="21.54" fill="#0E0EA6"/>
<rect x="539.4" y="395.46" width="22.5" height="20.54" fill="#05057F"/>
<rect x="539.4" y="25.8" width="22.5" height="390.2" fill="none" stroke="#4d4d4d" stroke-opacity="0.55" stroke-width="0.7"/>
<g font-family="'DejaVu Sans','Liberation Sans',sans-serif" font-size="13" fill="#262626">
<text x="566.5" y="420.7">-20</text>
<path d="M561.9 367.23 h-4" stroke="#4d4d4d" stroke-width="0.7"/>
<text x="566.5" y="371.93">-15</text>
<path d="M561.9 318.45 h-4" stroke="#4d4d4d" stroke-width="0.7"/>
<text x="566.5" y="323.15">-10</text>
<path d="M561.9 269.68 h-4" stroke="#4d4d4d" stroke-width="0.7"/>
<text x="566.5" y="274.38">-5</text>
<path d="M561.9 220.9 h-4" stroke="#4d4d4d" stroke-width="0.7"/>
<text x="566.5" y="225.6">0</text>
<path d="M561.9 172.12 h-4" stroke="#4d4d4d" stroke-width="0.7"/>
<text x="566.5" y="176.82">5</text>
<path d="M561.9 123.35 h-4" stroke="#4d4d4d" stroke-width="0.7"/>
<text x="566.5" y="128.05">10</text>
<path d="M561.9 74.58 h-4" stroke="#4d4d4d" stroke-width="0.7"/>
<text x="566.5" y="79.28">15</text>
<text x="566.5" y="30.5">20</text>
</g>
<rect x="1146" y="25.8" width="22.2" height="21.54" fill="#7F0505"/>
<rect x="1146" y="46.34" width="22.2" height="21.54" fill="#A80F10"/>
<rect x="1146" y="66.87" width="22.2" height="21.54" fill="#C01F20"/>
<rect x="1146" y="87.41" width="22.2" height="21.54" fill="#D3383B"/>
<rect x="1146" y="107.95" width="22.2" height="21.54" fill="#DF6566"/>
<rect x="1146" y="128.48" width="22.2" height="21.54" fill="#EA9595"/>
<rect x="1146" y="149.02" width="22.2" height="21.54" fill="#F2C0BF"/>
<rect x="1146" y="169.56" width="22.2" height="21.54" fill="#F8E6E3"/>
<rect x="1146" y="190.09" width="22.2" height="21.54" fill="#FFFAF5"/>
<rect x="1146" y="210.63" width="22.2" height="21.54" fill="#FAFEFF"/>
<rect x="1146" y="231.17" width="22.2" height="21.54" fill="#EEF3FB"/>
<rect x="1146" y="251.71" width="22.2" height="21.54" fill="#CDD0F3"/>
<rect x="1146" y="272.24" width="22.2" height="21.54" fill="#A3A5EA"/>
<rect x="1146" y="292.78" width="22.2" height="21.54" fill="#7375E0"/>
<rect x="1146" y="313.32" width="22.2" height="21.54" fill="#4B4DD8"/>
<rect x="1146" y="333.85" width="22.2" height="21.54" fill="#2F30CB"/>
<rect x="1146" y="354.39" width="22.2" height="21.54" fill="#1A1ABB"/>
<rect x="1146" y="374.93" width="22.2" height="21.54" fill="#0E0EA6"/>
<rect x="1146" y="395.46" width="22.2" height="20.54" fill="#05057F"/>
<rect x="1146" y="25.8" width="22.2" height="390.2" fill="none" stroke="#4d4d4d" stroke-opacity="0.55" stroke-width="0.7"/>
<g font-family="'DejaVu Sans','Liberation Sans',sans-serif" font-size="13" fill="#262626">
<text x="1172.8" y="420.7">-20</text>
<path d="M1168.2 367.23 h-4" stroke="#4d4d4d" stroke-width="0.7"/>
<text x="1172.8" y="371.93">-15</text>
<path d="M1168.2 318.45 h-4" stroke="#4d4d4d" stroke-width="0.7"/>
<text x="1172.8" y="323.15">-10</text>
<path d="M1168.2 269.68 h-4" stroke="#4d4d4d" stroke-width="0.7"/>
<text x="1172.8" y="274.38">-5</text>
<path d="M1168.2 220.9 h-4" stroke="#4d4d4d" stroke-width="0.7"/>
<text x="1172.8" y="225.6">0</text>
<path d="M1168.2 172.12 h-4" stroke="#4d4d4d" stroke-width="0.7"/>
<text x="1172.8" y="176.82">5</text>
<path d="M1168.2 123.35 h-4" stroke="#4d4d4d" stroke-width="0.7"/>
<text x="1172.8" y="128.05">10</text>
<path d="M1168.2 74.58 h-4" stroke="#4d4d4d" stroke-width="0.7"/>
<text x="1172.8" y="79.28">15</text>
<text x="1172.8" y="30.5">20</text>
</g>
<defs>
<radialGradient id="lg1" cx="0.30" cy="0.26" r="0.9"><stop offset="0" stop-color="#7ccbc8"/><stop offset="0.28" stop-color="#50aac2"/><stop offset="0.58" stop-color="#367cc2"/><stop offset="0.85" stop-color="#2a5aae"/><stop offset="1" stop-color="#284c9c"/></radialGradient>
<linearGradient id="lg2" x1="0" y1="0" x2="0" y2="1"><stop offset="0" stop-color="#fff" stop-opacity="0.55"/><stop offset="0.7" stop-color="#fff" stop-opacity="0"/></linearGradient>
<linearGradient id="lg3" x1="0" y1="0" x2="1" y2="0"><stop offset="0" stop-color="#8fd6e2" stop-opacity="0.55"/><stop offset="0.6" stop-color="#6ab0dc" stop-opacity="0.25"/><stop offset="1" stop-color="#4a86d0" stop-opacity="0"/></linearGradient>
<filter id="bl" x="-50%" y="-50%" width="200%" height="200%"><feGaussianBlur stdDeviation="1.2"/></filter>
<filter id="bl2" x="-50%" y="-50%" width="200%" height="200%"><feGaussianBlur stdDeviation="2.4"/></filter>
<filter id="bl3" x="-50%" y="-50%" width="200%" height="200%"><feGaussianBlur stdDeviation="0.7"/></filter>
<clipPath id="lgc"><circle cx="0" cy="0" r="40.2"/></clipPath>
<g id="logo">
<g filter="url(#bl)"><rect x="-5.5" y="-47.4" width="11" height="4.4" fill="#d2d2d2"/><rect x="-5" y="43.2" width="10" height="2.4" fill="#e8e8e8"/><rect x="-47.8" y="-5.5" width="4.4" height="11" fill="#d2d2d2"/><rect x="43.4" y="-4" width="2.2" height="8" fill="#eeeeee"/></g>
<circle cx="-0.4" cy="0.6" r="43.0" fill="#b4b8b8" filter="url(#bl3)"/>
<circle cx="0" cy="0" r="42.6" fill="#dadede"/>
<circle cx="0" cy="0" r="41.5" fill="#eef0f0"/>
<circle cx="0" cy="0" r="40.7" fill="#b9c6cc"/>
<circle cx="0" cy="0" r="40.2" fill="url(#lg1)"/>
<g clip-path="url(#lgc)">
<ellipse cx="-22" cy="-20" rx="20" ry="15" fill="#9fe6dc" opacity="0.32" filter="url(#bl2)"/>
<ellipse cx="26" cy="-22" rx="18" ry="16" fill="#1f56b0" opacity="0.45" filter="url(#bl2)"/>
<path d="M-10 -42 L-24 4 L-11 6Z M1 -42 L-4 2 L8 2Z M9 -42 L14 -8 L24 -12Z M-20 -40 L-37 -8 L-30 -4Z M16 -40 L30 -16 L36 -22Z" fill="url(#lg2)" filter="url(#bl)"/>
<rect x="-42" y="-10" width="84" height="20" fill="url(#lg3)" filter="url(#bl2)"/>
<ellipse cx="14" cy="30" rx="32" ry="10" fill="#1f3f92" opacity="0.38" filter="url(#bl2)"/>
<ellipse cx="-22" cy="20" rx="14" ry="8" fill="#7cc6d6" opacity="0.45" filter="url(#bl2)"/>
<ellipse cx="26" cy="12" rx="12" ry="6" fill="#86badf" opacity="0.3" filter="url(#bl2)"/>
<ellipse cx="-4" cy="38" rx="22" ry="5" fill="#6fb0b4" opacity="0.45" filter="url(#bl2)"/>
<path d="M-30 16 l3 -1.4 l2.4 1.6 l-2.6 1.2Z M-25 26 l3.4 -1.2 l2 1.6 l-3 1Z M22 20 l3 -1.4 l2.4 1.4 l-2.8 1.2Z M26 27 l4 -2 l2.4 2.2 l-3.6 1.4Z M-8 30 l3 -1 l2 1.4 l-2.6 1Z M-32 -14 l3 -1.6 l2 1.2 l-3 1.4Z" fill="#d6f0f4" opacity="0.4" filter="url(#bl3)"/>
<path d="M-16.4 16.0 C-11.6 12.8 -3.4 11.6 4 12.8 C7.8 13.4 10.6 14.6 12.4 15.4 L18.6 11.6 L16.8 16.6 L19.4 21.8 L12.6 17.6 C9 19.4 4 20.6 -2 20.4 C-8.4 20.2 -13.2 18.2 -16.4 16.0Z M-4 12.0 L1.4 9.0 L3 12.4Z M-2 20.2 L1.8 23.0 L3.6 20.0Z M6.6 19.2 L8.8 21.4 L10 18.6Z" fill="#7099be" opacity="0.95" filter="url(#bl3)"/>
<path d="M-14.6 15.4 C-9 13.4 2 13.0 11.4 15.2" stroke="#cfe6f0" stroke-width="1.1" fill="none" opacity="0.75" filter="url(#bl3)"/>
<path d="M-13 17.8 C-7 19.6 3 19.8 11 17.4" stroke="#3f6aa4" stroke-width="1.0" fill="none" opacity="0.6" filter="url(#bl3)"/>
</g>
<text x="1.2" y="6.9" text-anchor="middle" font-family="'Liberation Sans','DejaVu Sans',sans-serif" font-size="18.0" textLength="69.6" lengthAdjust="spacingAndGlyphs" fill="#2a5a9a" stroke="#2a5a9a" stroke-width="1.6" opacity="0.5" filter="url(#bl)">J-SCOPE</text>
<text x="1.2" y="6.9" text-anchor="middle" font-family="'Liberation Sans','DejaVu Sans',sans-serif" font-size="18.0" textLength="69.6" lengthAdjust="spacingAndGlyphs" fill="#fdffff" stroke="#fdffff" stroke-width="0.62" stroke-linejoin="round">J-SCOPE</text>
</g>
</defs>
<use href="#logo" x="467.6" y="352.9"/>
<use href="#logo" x="1076.4" y="354.3"/>
</svg>
</body>
</html>
